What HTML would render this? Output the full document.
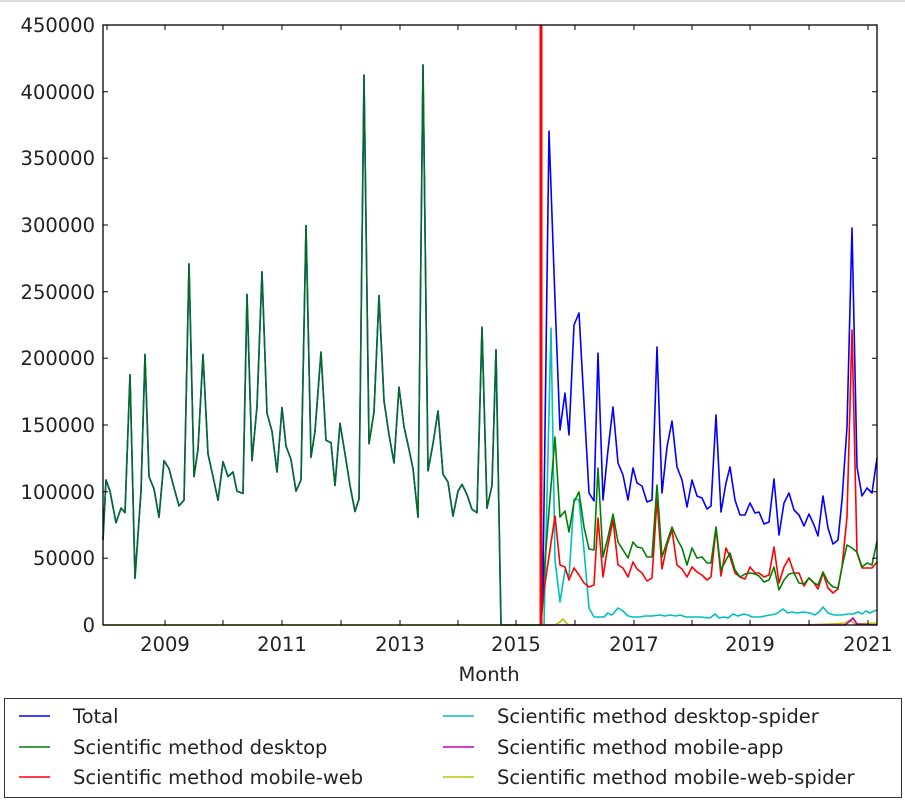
<!DOCTYPE html>
<html><head><meta charset="utf-8"><style>
html,body{margin:0;padding:0;background:#fff;width:905px;height:802px;overflow:hidden}
svg text{font-family:"DejaVu Sans","Liberation Sans",sans-serif;fill:#222}
</style></head><body>
<svg width="905" height="802" viewBox="0 0 905 802" xmlns="http://www.w3.org/2000/svg">
<line x1="0" y1="1" x2="905" y2="1" stroke="#ddd" stroke-width="2"/>
<g fill="none" stroke-linejoin="round" stroke-width="1.6">
<polyline id="preB" stroke="#0000ff" points=""/>
<polyline id="preG" stroke="#008000" stroke-opacity="0.85" points=""/>
<polyline stroke="#bfbf00" points="103,625 555,625 560,622 563,619 567,624 570,625 800,625 830,624 845,623 850,620 855,624 877,623"/>
<polyline stroke="#bf00bf" points="541,625 845,625 850,621 853,618 857,624 877,625"/>
<polyline stroke="#00bfbf" points="541,625 544,625 551,328 555,560 560,602 565,570 569,577 574,499 579,500 584,550 589,608 594,617 599,617 604,617 608,613 611,615 613,614 618,608 623,611 628,616 633,617 640,617 645,616 652,616 660,615 665,616 670,615 676,616 680,615 686,617 692,617 700,617 710,618 715,614 719,618 724,617 728,618 733,614 738,616 744,614 748,615 752,617 760,617 765,616 770,615 776,614 783,609 788,613 792,612 797,613 803,612 810,613 815,615 819,612 823,607 828,613 834,615 842,615 848,614 853,614 858,612 862,614 866,611 870,613 874,611 877,610"/>
<polyline stroke="#ff0000" points="541,625 544,590 555,516 560,565 565,567 569,580 574,568 579,575 584,583 589,587 594,585 598,518 603,577 608,545 613,520 618,565 623,568 628,577 633,562 637,569 642,573 647,581 652,578 657,499 662,569 667,545 672,530 677,565 682,569 687,577 692,567 697,572 702,575 707,580 711,577 716,528 721,576 726,548 730,557 735,573 740,577 745,579 750,567 755,573 759,573 764,577 769,575 774,547 779,583 784,567 789,558 794,573 799,573 804,586 809,578 814,583 818,589 823,573 828,588 833,593 838,589 842,567 847,517 852,330 857,553 862,568 867,568 872,568 877,562"/>
<polyline stroke="#008000" points="541,625 544,573 555,437 560,517 565,511 569,532 574,502 579,492 584,527 589,549 594,550 598,468 603,557 608,537 613,514 618,542 623,550 628,558 633,542 637,547 642,548 647,557 652,557 657,485 662,557 667,542 672,527 677,539 682,548 687,565 692,548 697,558 702,557 707,563 711,563 716,527 721,570 726,560 730,553 735,570 740,577 745,574 750,573 755,574 759,576 764,582 769,580 774,567 779,590 784,580 789,574 794,573 799,583 804,584 809,578 814,583 818,585 823,572 828,582 833,587 838,588 842,567 847,545 852,548 857,552 862,567 867,563 872,565 877,541"/>
<polyline stroke="#0000ff" points="541,625 543,580 549,131 555,300 560,430 565,393 569,435 574,325 579,313 589,493 594,501 598,353 603,500 608,450 613,407 618,463 623,475 628,500 633,468 637,483 642,486 647,502 652,500 657,347 662,493 667,447 672,421 677,467 682,480 687,507 692,480 697,496 702,498 707,509 711,506 716,415 721,512 726,483 730,467 735,500 740,515 745,515 750,503 755,513 759,512 764,524 769,522 774,479 779,535 784,503 789,493 794,510 799,515 804,526 809,514 814,525 818,536 823,496 828,528 833,544 838,540 842,500 847,427 852,228 857,467 862,496 867,488 872,493 877,458"/>
</g>
<line x1="541" y1="25" x2="541" y2="625" stroke="#ff0000" stroke-width="3"/>
<rect x="103" y="25" width="774" height="600" fill="none" stroke="#000" stroke-width="1.3"/>
<g stroke="#000" stroke-width="1">
<path d="M165,625v-5M223,625v-5M282,625v-5M341,625v-5M400,625v-5M458,625v-5M516,625v-5M575,625v-5M634,625v-5M692,625v-5M750,625v-5M809,625v-5M868,625v-5 M107,25v5M165,25v5M223,25v5M282,25v5M341,25v5M400,25v5M458,25v5M516,25v5M575,25v5M634,25v5M692,25v5M750,25v5M809,25v5M868,25v5"/>
<path d="M103,558.3h5M103,491.7h5M103,425h5M103,358.3h5M103,291.7h5M103,225h5M103,158.3h5M103,91.7h5 M877,558.3h-5M877,491.7h-5M877,425h-5M877,358.3h-5M877,291.7h-5M877,225h-5M877,158.3h-5M877,91.7h-5"/>
</g>
<g font-size="19.5" text-anchor="end">
<text x="95" y="632">0</text>
<text x="95" y="565">50000</text>
<text x="95" y="499">100000</text>
<text x="95" y="432">150000</text>
<text x="95" y="365">200000</text>
<text x="95" y="299">250000</text>
<text x="95" y="232">300000</text>
<text x="95" y="165">350000</text>
<text x="95" y="99">400000</text>
<text x="95" y="32">450000</text>
</g>
<g font-size="19.5" text-anchor="middle">
<text x="165" y="651">2009</text>
<text x="282" y="651">2011</text>
<text x="400" y="651">2013</text>
<text x="516" y="651">2015</text>
<text x="634" y="651">2017</text>
<text x="750" y="651">2019</text>
<text x="868" y="651">2021</text>
<text x="489" y="681">Month</text>
</g>
<rect x="4.5" y="698.5" width="897" height="99" fill="#fff" stroke="#333" stroke-width="1"/>
<g stroke-width="1.6">
<line x1="19" y1="716" x2="50" y2="716" stroke="#0000ff"/>
<line x1="19" y1="747" x2="50" y2="747" stroke="#008000"/>
<line x1="19" y1="777" x2="50" y2="777" stroke="#ff0000"/>
<line x1="443" y1="716" x2="474" y2="716" stroke="#00bfbf"/>
<line x1="443" y1="747" x2="474" y2="747" stroke="#bf00bf"/>
<line x1="443" y1="777" x2="474" y2="777" stroke="#bfbf00"/>
</g>
<g font-size="19.5">
<text x="73" y="723">Total</text>
<text x="73" y="754">Scientific method desktop</text>
<text x="73" y="784">Scientific method mobile-web</text>
<text x="497" y="723">Scientific method desktop-spider</text>
<text x="497" y="754">Scientific method mobile-app</text>
<text x="497" y="784">Scientific method mobile-web-spider</text>
</g>
</svg>
<script>
var raw=[103,483,106,430,110,440,116,468,121,455,125,459,130,337,135,517,141,440,145,319,149,427,154,438,159,463,164,413,169,420,174,437,179,453,184,448,189,239,194,427,198,403,203,319,208,407,213,427,218,448,223,414,228,427,233,423,237,440,243,442,247,266,252,413,257,365,262,246,267,371,272,387,277,423,282,366,286,400,291,412,296,440,301,430,306,205,311,410,315,387,321,317,326,395,331,397,335,435,340,380,345,407,350,435,355,458,359,447,364,72,369,398,374,370,379,267,384,360,389,390,394,415,399,348,404,383,409,403,413,420,418,463,423,63,428,422,433,398,438,369,443,425,448,432,453,462,458,440,462,434,467,443,472,456,477,459,482,295,487,455,492,435,496,315];
var p=[];for(var i=0;i<raw.length;i+=2){p.push(raw[i]+","+(38.9+(raw[i+1]-40)*1.1307).toFixed(1));}
p.push("501,625");p.push("541,625");
var s=p.join(" ");
document.getElementById("preB").setAttribute("points",s);
document.getElementById("preG").setAttribute("points",s);
</script>
</body></html>
